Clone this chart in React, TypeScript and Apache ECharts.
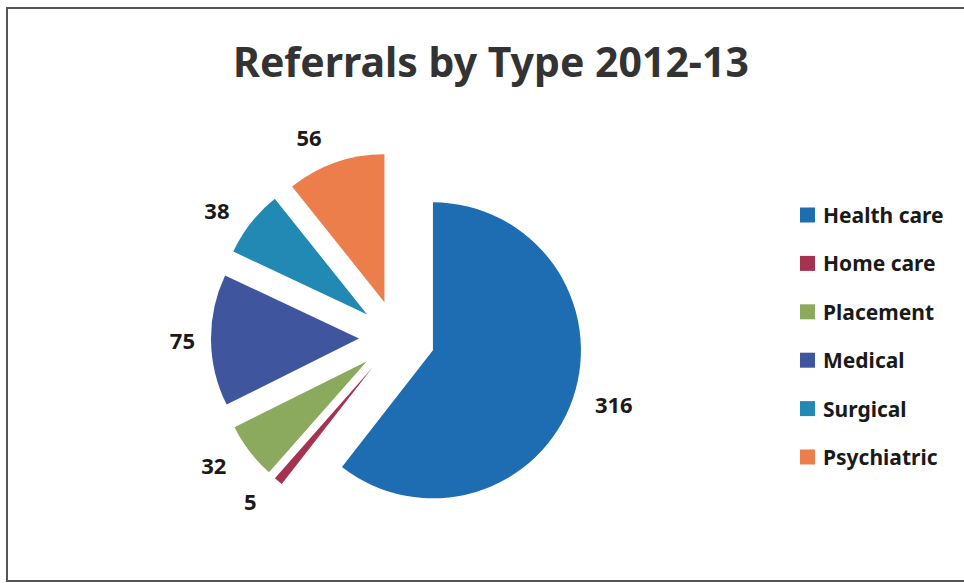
import React, { useEffect, useRef } from "react";
import * as echarts from "echarts";

const categories = ["Health care", "Home care", "Placement", "Medical", "Surgical", "Psychiatric"];
const values = [316, 5, 32, 75, 38, 56];
const colors = ["#1E6CB2", "#A5324F", "#8BAA5E", "#3F559E", "#2189B4", "#EC7E4B"];
const labelLineLengths = [18, 26, 23, 11, 21, 27];
const titleText = "Referrals by Type 2012-13";

export default function App() {
  const ref = useRef<HTMLDivElement>(null);
  useEffect(() => {
    if (!ref.current) return;
    const chart = echarts.init(ref.current, undefined, { renderer: "svg" });
    const font = "'Noto Sans', sans-serif";
    chart.setOption({
      animation: false,
      backgroundColor: "#ffffff",
      color: colors,
      title: {
        text: titleText,
        left: 228,
        top: 35,
        textStyle: { fontFamily: font, fontSize: 41, fontWeight: "bold", color: "#333333" },
      },
      legend: {
        orient: "vertical",
        left: 800,
        top: 204,
        padding: 0,
        itemWidth: 15,
        itemHeight: 15,
        itemGap: 26.4,
        icon: "rect",
        selectedMode: false,
        textStyle: { fontFamily: font, fontSize: 21, fontWeight: "bold", lineHeight: 22, color: "#1a1a1a", padding: [0, 0, 0, 3] },
        data: categories,
      },
      graphic: [
        {
          type: "polyline",
          shape: { points: [[1000, 8], [7, 8], [7, 581], [1000, 581]] },
          style: { fill: "none", stroke: "#555555", lineWidth: 2 },
          silent: true,
        },
      ],
      series: [
        {
          type: "pie",
          center: [397, 338],
          radius: 148,
          startAngle: 90,
          clockwise: true,
          selectedMode: "multiple",
          selectedOffset: 38,
          avoidLabelOverlap: false,
          emphasis: { disabled: true },
          select: { itemStyle: { borderWidth: 0 } },
          itemStyle: { borderWidth: 0 },
          label: {
            show: true,
            position: "outside",
            formatter: "{c}",
            fontFamily: font,
            fontSize: 22,
            fontWeight: "bold",
            color: "#1a1a1a",
          },
          labelLine: { show: false, length: 18, length2: 0 },
          data: categories.map((name, i) => ({
            name,
            value: values[i],
            selected: true,
            labelLine: { show: false, length: labelLineLengths[i], length2: 0 },
          })),
        },
      ],
    });
    return () => chart.dispose();
  }, []);
  return (
    <div style={{ position: "fixed", left: 0, top: 0, width: 964, height: 583 }}>
      <div ref={ref} style={{ width: 964, height: 583 }} />
    </div>
  );
}
